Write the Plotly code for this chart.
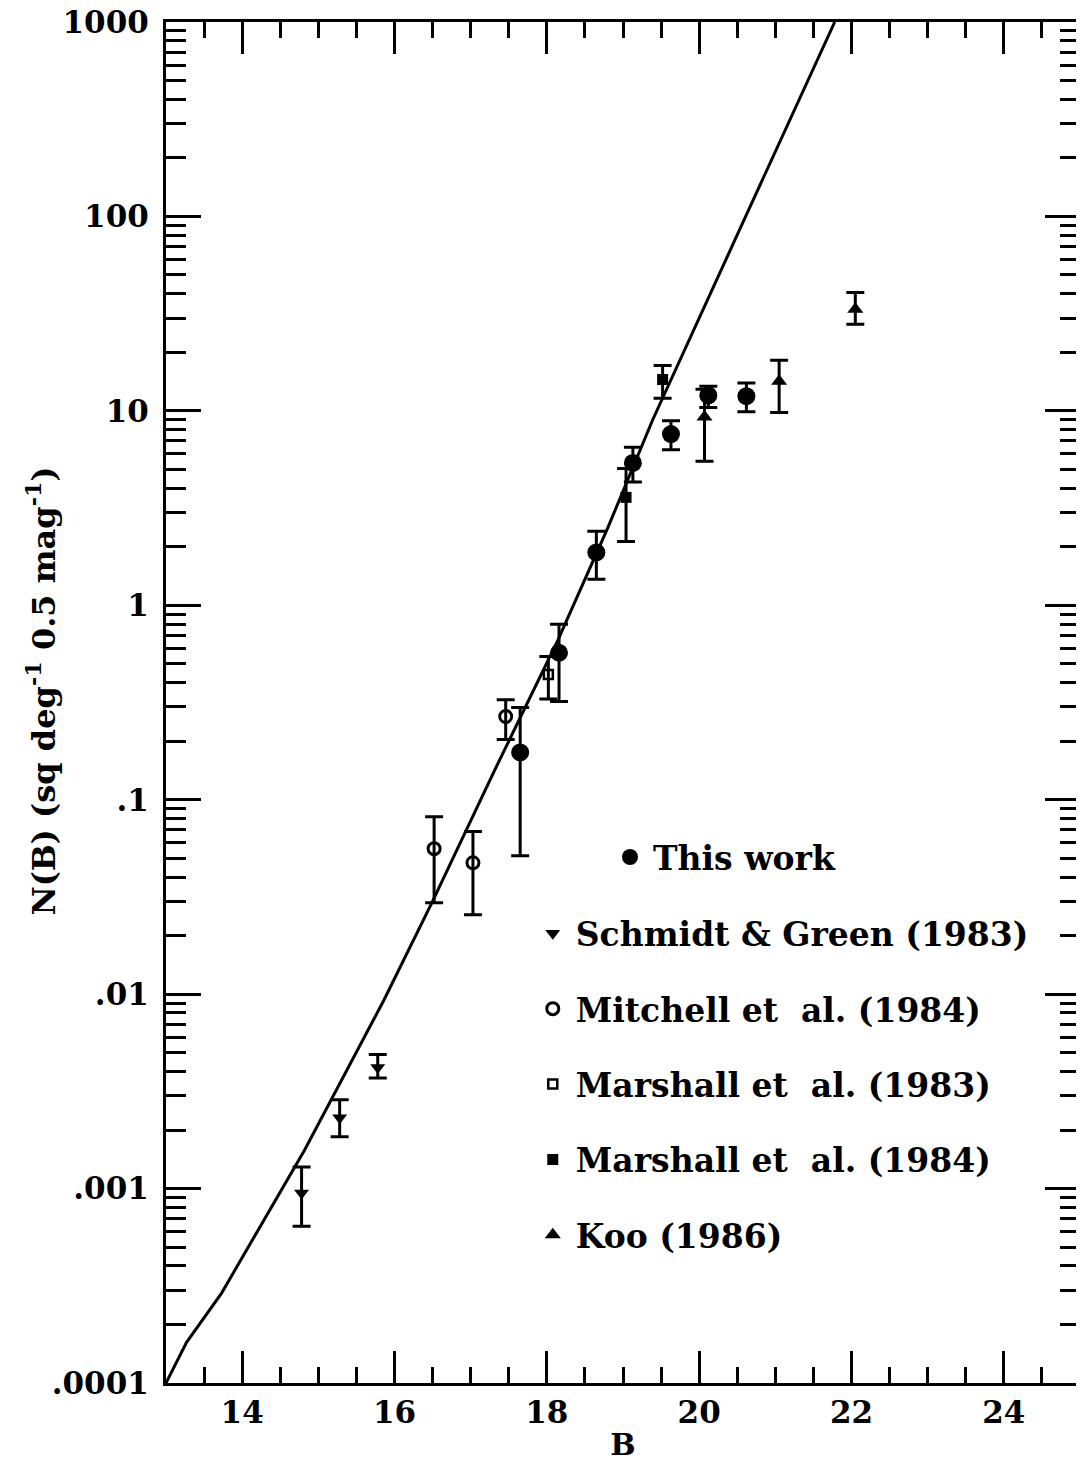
import plotly.graph_objects as go

# model curve
curve_b = [13.0, 13.27, 13.73, 14.36, 14.82, 15.86, 16.49, 17.3, 18.15, 18.8, 19.39, 20.6, 21.78]
curve_n = [1.0e-4, 1.62e-4, 2.9e-4, 7.8e-4, 1.58e-3, 9.3e-3, 0.0295, 0.138, 0.667, 2.5, 9.0, 98, 1000]

# This work
tw_b = [17.65, 18.16, 18.65, 19.13, 19.63, 20.12, 20.62]
tw_n = [0.175, 0.57, 1.87, 5.4, 7.6, 12.0, 11.9]
tw_hi = [0.298, 0.80, 2.4, 6.5, 8.9, 13.4, 13.9]
tw_lo = [0.0515, 0.32, 1.36, 4.3, 6.3, 10.4, 9.9]

# Schmidt & Green (1983)
sg_b = [14.78, 15.28, 15.78]
sg_n = [9.5e-4, 2.31e-3, 4.2e-3]
sg_hi = [1.29e-3, 2.86e-3, 4.9e-3]
sg_lo = [6.4e-4, 1.85e-3, 3.7e-3]

# Mitchell et al. (1984)
mi_b = [16.52, 17.03, 17.46]
mi_n = [0.056, 0.0474, 0.268]
mi_hi = [0.0818, 0.0686, 0.327]
mi_lo = [0.0295, 0.0256, 0.204]

# Marshall et al. (1983)
m83_b = [18.02]
m83_n = [0.44]
m83_hi = [0.545]
m83_lo = [0.33]

# Marshall et al. (1984)
m84_b = [19.04, 19.52]
m84_n = [3.59, 14.5]
m84_hi = [5.06, 17.1]
m84_lo = [2.13, 11.6]

# Koo (1986)
koo_b = [20.07, 21.05, 22.05]
koo_n = [9.3, 14.2, 33.3]
koo_hi = [12.9, 18.2, 40.6]
koo_lo = [5.5, 9.8, 27.9]

y_tickvals = [1e-4, 1e-3, 1e-2, 1e-1, 1, 10, 100, 1000]
y_ticktext = [".0001", ".001", ".01", ".1", "1", "10", "100", "1000"]

FONT = "DejaVu Serif"


def err(n, hi, lo):
    return dict(type="data", symmetric=False,
                array=[h - v for h, v in zip(hi, n)],
                arrayminus=[v - l for v, l in zip(n, lo)],
                color="black", thickness=3, width=9)


fig = go.Figure()

fig.add_trace(go.Scatter(x=curve_b, y=curve_n, mode="lines",
                         line=dict(color="black", width=3), showlegend=False))

series = [
    ("This work", tw_b, tw_n, tw_hi, tw_lo, dict(symbol="circle", size=18), "legend"),
    ("Schmidt & Green (1983)", sg_b, sg_n, sg_hi, sg_lo, dict(symbol="triangle-down", size=13), "legend2"),
    ("Mitchell et  al. (1984)", mi_b, mi_n, mi_hi, mi_lo,
     dict(symbol="circle-open", size=12, line=dict(width=3, color="black")), "legend2"),
    ("Marshall et  al. (1983)", m83_b, m83_n, m83_hi, m83_lo,
     dict(symbol="square-open", size=9, line=dict(width=2.5, color="black")), "legend2"),
    ("Marshall et  al. (1984)", m84_b, m84_n, m84_hi, m84_lo, dict(symbol="square", size=11), "legend2"),
    ("Koo (1986)", koo_b, koo_n, koo_hi, koo_lo, dict(symbol="triangle-up", size=14), "legend2"),
]

for name, b, n, hi, lo, mk, leg in series:
    mk = dict(mk, color="black")
    fig.add_trace(go.Scatter(x=b, y=n, mode="markers", name=name, marker=mk,
                             error_y=err(n, hi, lo), legend=leg, legendgroup=name))

minor_y = [m * 10 ** e for e in range(-4, 3) for m in range(2, 10)]

tick_font = dict(family=FONT, size=31, weight="bold")
leg_font = dict(family=FONT, size=33, weight="bold")

fig.update_layout(
    width=1076, height=1454,
    paper_bgcolor="white", plot_bgcolor="white",
    margin=dict(l=158, r=4, t=14, b=79),
    font=dict(family=FONT, size=30, color="black", weight="bold"),
    xaxis=dict(range=[13, 25], tickvals=[14, 16, 18, 20, 22, 24],
               ticks="inside", ticklen=32, tickwidth=3, tickcolor="black",
               minor=dict(dtick=0.5, ticks="inside", ticklen=16, tickwidth=3, tickcolor="black"),
               showline=True, linewidth=3, linecolor="black", mirror="allticks",
               showgrid=False, zeroline=False, tickfont=tick_font, ticklabeloverflow="allow",
               automargin=False,
               title=dict(text="B", font=dict(family=FONT, size=30, weight="bold"), standoff=8)),
    yaxis=dict(type="log", range=[-4, 3], tickvals=y_tickvals, ticktext=y_ticktext,
               ticks="inside", ticklen=35, tickwidth=3, tickcolor="black",
               minor=dict(tickmode="array", tickvals=minor_y, ticks="inside", ticklen=20,
                          tickwidth=3, tickcolor="black"),
               showline=True, linewidth=3, linecolor="black", mirror="allticks",
               showgrid=False, zeroline=False, tickfont=tick_font, ticklabelstandoff=8,
               ticklabeloverflow="allow", automargin=False),
    legend=dict(x=0.4825, y=0.407, xanchor="left", yanchor="top",
                bgcolor="rgba(0,0,0,0)", font=leg_font, itemwidth=36, itemclick=False),
    legend2=dict(x=0.398, y=0.351, xanchor="left", yanchor="top",
                 bgcolor="rgba(0,0,0,0)", font=leg_font, itemwidth=36,
                 tracegroupgap=29.5, itemclick=False),
    annotations=[dict(text="N(B) (sq deg<sup>-1</sup> 0.5 mag<sup>-1</sup>)",
                      xref="paper", yref="paper", x=0, y=0.508, xshift=-125,
                      xanchor="center", yanchor="middle", textangle=-90, showarrow=False,
                      font=dict(family=FONT, size=32, weight="bold"))],
)

fig.write_html("out.html")
